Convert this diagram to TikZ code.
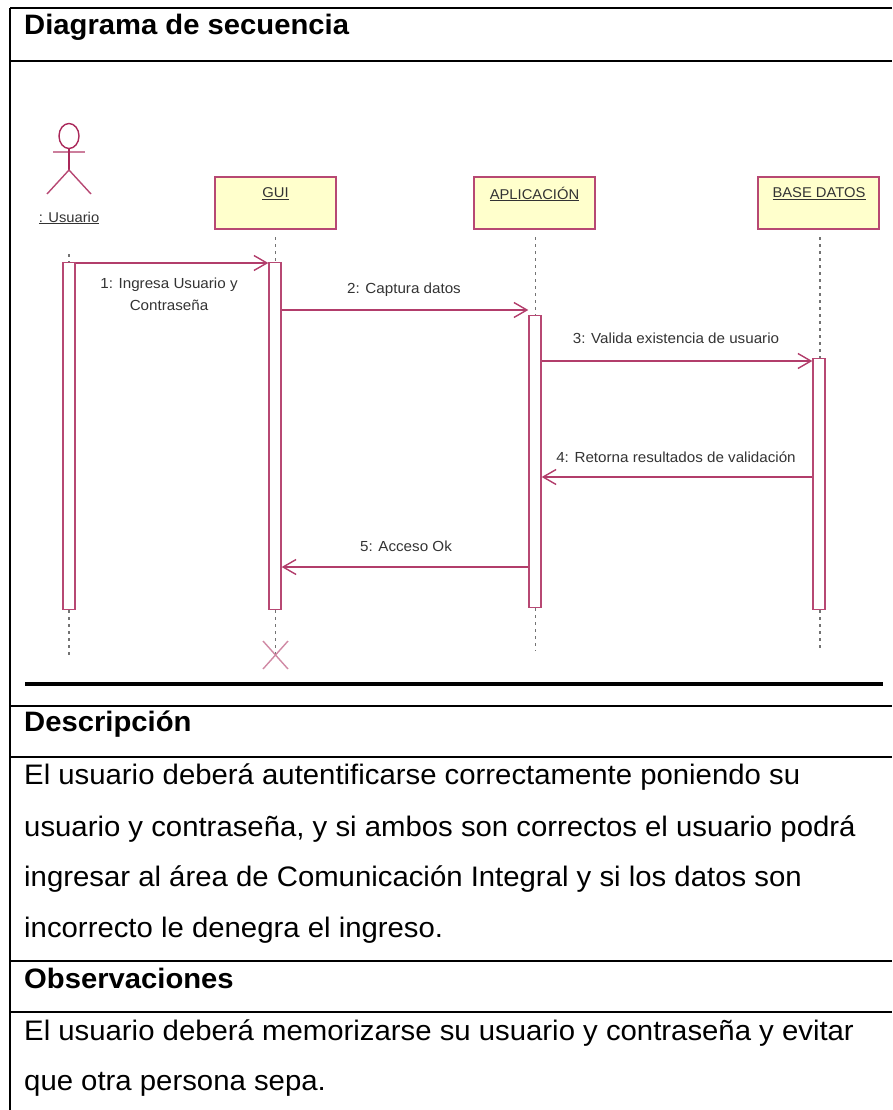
\documentclass[tikz,border=0pt]{standalone}
\usepackage{fontspec}
\setmainfont[FakeStretch=1.04]{Liberation Sans}
\usetikzlibrary{positioning}
\usetikzlibrary{arrows.meta}
\usetikzlibrary{shapes.geometric}
\definecolor{umlline}{RGB}{170,40,90}
\definecolor{umlfill}{RGB}{255,255,204}
\tikzset{
    rowline/.style={draw=black,line width=2.6pt},
    headtext/.style={anchor=base west,inner sep=0pt,font=\fontsize{28.1}{29}\selectfont\bfseries},
    bodytext/.style={anchor=base west,inner sep=0pt,font=\fontsize{28.2}{29}\selectfont},
    umlobject/.style={draw=umlline!85,fill=umlfill,line width=1.6pt,minimum width=121pt,minimum height=52pt,inner sep=0pt},
    umlname/.style={inner sep=0pt,font=\fontsize{14.2}{15}\selectfont,text=black!80},
    umlbar/.style={draw=umlline!85,fill=white,line width=1.4pt,minimum width=12pt,inner sep=0pt,anchor=north},
    lifeline/.style={draw=black!55,line width=1.4pt,dash pattern=on 3pt off 4pt},
    umlmsg/.style={draw=umlline!90,line width=1.4pt,-{Straight Barb[length=13pt,width=15pt]}},
    msgtext/.style={inner sep=0pt,font=\fontsize{14.6}{22}\selectfont,text=black!80,align=center},
}
\begin{document}
\begin{tikzpicture}[x=1pt,y=-1pt]
    \useasboundingbox (0,0) rectangle (892,1110);

    % table
    \coordinate (T_tl) at (10,8);
    \coordinate (T_bl) at (10,1110);
    \draw[rowline] (T_tl) -- (T_bl);
    \foreach \rowy in {8,61,706,757,961,1012}
        \draw[rowline] (10,\rowy) -- (892,\rowy);
    \draw[draw=black,line width=4pt] (25,684) -- (883,684);

    \node[headtext] (H_seq) at (24,35) {Diagrama de secuencia};
    \node[headtext] (H_des) at (24,731) {Descripción};
    \node[bodytext] (D_1) at (24,784) {El usuario deberá autentificarse correctamente poniendo su};
    \node[bodytext] (D_2) at (24,836) {usuario y contraseña, y si ambos son correctos el usuario podrá};
    \node[bodytext] (D_3) at (24,886) {ingresar al área de Comunicación Integral y si los datos son};
    \node[bodytext] (D_4) at (24,937) {incorrecto le denegra el ingreso.};
    \node[headtext] (H_obs) at (24,988) {Observaciones};
    \node[bodytext] (O_1) at (24,1040) {El usuario deberá memorizarse su usuario y contraseña y evitar};
    \node[bodytext] (O_2) at (24,1090) {que otra persona sepa.};

    % objects
    \node[umlobject] (GUI) at (275.5,203) {};
    \node[umlobject] (APP) at (534.5,203) {};
    \node[umlobject] (BD) at (818.5,203) {};
    \node[umlname] (GUI_t) at (275.5,194) {\underline{GUI}};
    \node[umlname] (APP_t) at (534.5,194) {\underline{APLICACIÓN}};
    \node[umlname] (BD_t) at (819,194) {\underline{BASE DATOS}};
    \node[umlname] (ACT_t) at (69,218) {\underline{: Usuario}};

    % actor
    \node[draw=umlline,ellipse,line width=1.4pt,minimum width=20pt,minimum height=25pt,inner sep=0pt] (ACT_h) at (69,136) {};
    \coordinate (ACT_a) at (53,152);
    \coordinate (ACT_b) at (85,152);
    \coordinate (ACT_c) at (69,170);
    \coordinate (ACT_l) at (47,194);
    \coordinate (ACT_r) at (91,194);
    \draw[draw=umlline!60,line width=2.4pt] (ACT_a) -- (ACT_b);
    \draw[draw=umlline,line width=1.4pt] (ACT_h) -- (ACT_c);
    \draw[draw=umlline!85,line width=1.4pt] (ACT_l) -- (ACT_c) -- (ACT_r);

    % bars
    \node[umlbar,minimum height=347pt] (B_act) at (69,262) {};
    \node[umlbar,minimum height=347pt] (B_gui) at (275,262) {};
    \node[umlbar,minimum height=292pt] (B_app) at (535,315) {};
    \node[umlbar,minimum height=251pt] (B_bd) at (819,358) {};

    % lifelines
    \coordinate (L_act0) at (69,254);
    \coordinate (L_act1) at (69,655);
    \coordinate (L_gui0) at (275.5,237);
    \coordinate (L_gui1) at (275.5,655);
    \coordinate (L_app0) at (535.5,237);
    \coordinate (L_app1) at (535.5,651);
    \coordinate (L_bd0) at (820,237);
    \coordinate (L_bd1) at (820,651);
    \draw[lifeline] (L_act0) -- (B_act.north);
    \draw[lifeline] (B_act.south) -- (L_act1);
    \draw[lifeline] (L_gui0) -- (L_gui0 |- B_gui.north);
    \draw[lifeline] (L_gui1 |- B_gui.south) -- (L_gui1);
    \draw[lifeline] (L_app0) -- (L_app0 |- B_app.north);
    \draw[lifeline] (L_app1 |- B_app.south) -- (L_app1);
    \draw[lifeline] (L_bd0) -- (L_bd0 |- B_bd.north);
    \draw[lifeline] (L_bd1 |- B_bd.south) -- (L_bd1);

    % destroy mark
    \coordinate (X_a) at (263,641);
    \coordinate (X_b) at (288,669);
    \coordinate (X_c) at (288,641);
    \coordinate (X_d) at (263,669);
    \draw[draw=umlline!55,line width=1.4pt] (X_a) -- (X_b);
    \draw[draw=umlline!55,line width=1.4pt] (X_c) -- (X_d);

    % messages
    \draw[umlmsg] (B_act.north east |- 0,263) -- (B_gui.north west |- 0,263);
    \draw[umlmsg] (B_gui.east |- 0,310) -- (B_app.west |- 0,310);
    \draw[umlmsg] (B_app.east |- 0,361) -- (B_bd.west |- 0,361);
    \draw[umlmsg] (B_bd.west |- 0,477) -- (B_app.east |- 0,477);
    \draw[umlmsg] (B_app.west |- 0,567) -- (B_gui.east |- 0,567);

    \node[msgtext] (M_1) at (169,294) {1: Ingresa Usuario y\\Contraseña};
    \node[msgtext] (M_2) at (404,290) {2: Captura datos};
    \node[msgtext] (M_3) at (676,338) {3: Valida existencia de usuario};
    \node[msgtext] (M_4) at (676,457) {4: Retorna resultados de validación};
    \node[msgtext] (M_5) at (406,546) {5: Acceso Ok};
\end{tikzpicture}
\end{document}
